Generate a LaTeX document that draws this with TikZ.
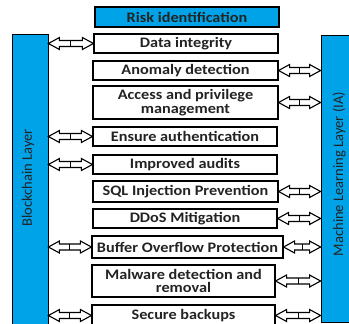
\documentclass[tikz,border=0pt]{standalone}
\usepackage{fontspec}
\setmainfont{Carlito}
\newfontfamily\boxfont[FakeStretch=1.12]{Carlito}
\usetikzlibrary{calc}
\definecolor{barblue}{RGB}{0,162,232}
\definecolor{txt}{RGB}{35,35,35}
\newcommand\biarrow[2]{%
  \draw[arrowline] (#1) -- ($(#1)+(11,6)$) -- ($(#1)+(11,3)$) -- ($(#2)+(-11,3)$) -- ($(#2)+(-11,6)$) -- (#2) -- ($(#2)+(-11,-6)$) -- ($(#2)+(-11,-3)$) -- ($(#1)+(11,-3)$) -- ($(#1)+(11,-6)$) -- cycle;
  \draw[arrowline] ($(#1)!0.5!(#2)+(0,3)$) -- ($(#1)!0.5!(#2)+(0,-3)$);}
\begin{document}
\begin{tikzpicture}[x=1pt,y=-1pt,
  box/.style={draw=black, line width=1.2pt, fill=white, inner sep=0pt, align=center, text=txt,
    font=\boxfont\fontsize{14.5}{13.5}\selectfont\bfseries},
  bar/.style={draw=black, line width=0.8pt, fill=barblue, inner sep=0pt},
  bartext/.style={text=txt, font=\fontsize{14.5}{15}\selectfont, rotate=90, inner sep=0pt},
  arrowline/.style={draw=black, line width=1.1pt, fill=white, line join=miter}]
\useasboundingbox (0,0) rectangle (349,324);
\clip (0,0) rectangle (349,324);
% bars
\node[bar, minimum width=36pt, minimum height=306pt] (lb) at (30,187) {};
\node[bar, minimum width=40pt, minimum height=287pt] (rb) at (341,178.5) {};
\node[bartext] (lbt) at (28,178) {Blockchain Layer};
\node[bartext] (rbt) at (339,174) {Machine Learning Layer (IA)};
% boxes
\node[box, fill=barblue, minimum width=184pt, minimum height=20pt] (risk) at (187,17) {Risk identification};
\node[box, minimum width=184pt, minimum height=19pt] (b1) at (186,43.5) {Data integrity};
\node[box, minimum width=185pt, minimum height=19pt] (b2) at (185.5,70.5) {Anomaly detection};
\node[box, minimum width=185pt, minimum height=33pt] (b3) at (185.5,102.5) {Access and privilege\\management};
\node[box, minimum width=184pt, minimum height=19pt] (b4) at (185,136.5) {Ensure authentication};
\node[box, minimum width=184pt, minimum height=19pt] (b5) at (185,164.5) {Improved audits};
\node[box, minimum width=185pt, minimum height=21pt] (b6) at (185.5,191.5) {SQL Injection Prevention};
\node[box, minimum width=184pt, minimum height=19pt] (b7) at (185,218.5) {DDoS Mitigation};
\node[box, minimum width=191pt, minimum height=22pt] (b8) at (187.5,247) {Buffer Overflow Protection};
\node[box, minimum width=183pt, minimum height=32pt] (b9) at (183.5,281) {Malware detection and\\removal};
\node[box, minimum width=183pt, minimum height=21pt] (b10) at (183.5,315.5) {Secure backups};
% left connectors
\foreach \b in {b1,b4,b5,b8,b10}{
  \coordinate (L\b) at (lb.east |- \b.west);
  \biarrow{L\b}{\b.west}
}
% right connectors
\foreach \b in {b2,b3,b6,b7,b8,b9,b10}{
  \coordinate (R\b) at (rb.west |- \b.east);
  \biarrow{\b.east}{R\b}
}
\end{tikzpicture}
\end{document}
